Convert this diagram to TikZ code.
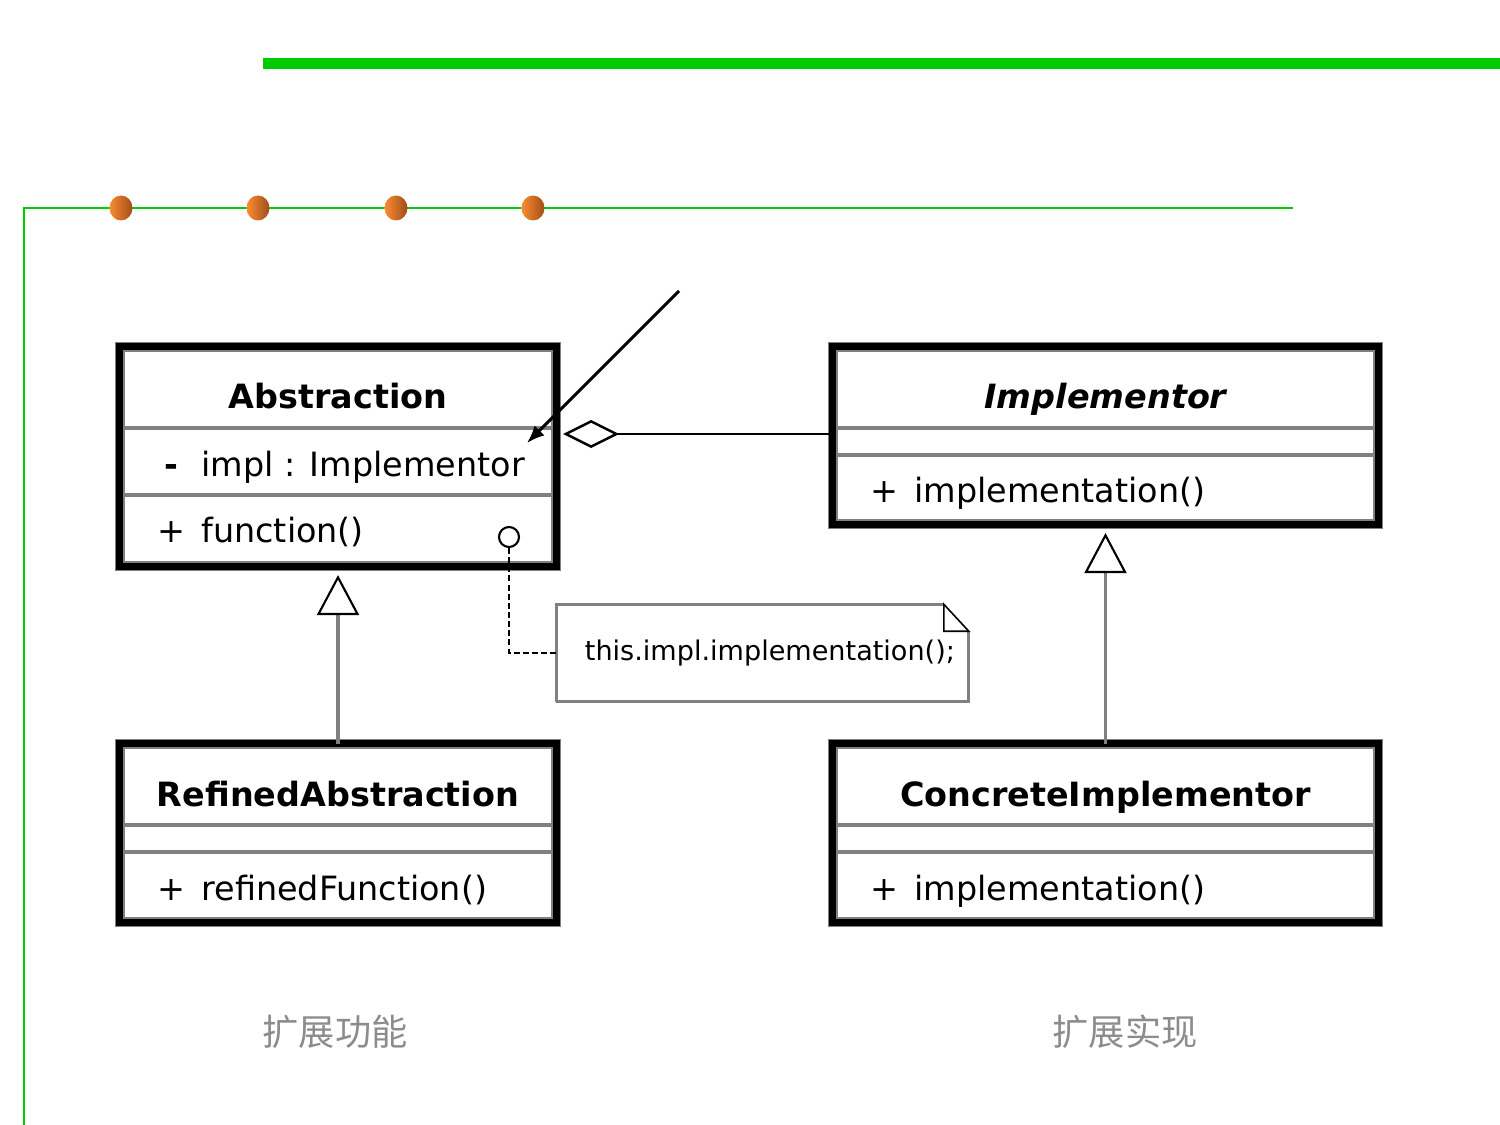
\documentclass[tikz,border=0pt]{standalone}
\usepackage{fontspec}
\setmainfont{DejaVu Sans}
\newfontfamily\cjk{Noto Sans CJK SC}
\usepackage{tikz}
\usetikzlibrary{arrows.meta, positioning, calc, shapes.geometric}
\definecolor{framegreen}{HTML}{00CC00}
\definecolor{dotlight}{HTML}{FA8C32}
\definecolor{dotdark}{HTML}{A04E18}
\definecolor{umlgray}{HTML}{808080}
\definecolor{labelgray}{HTML}{8C8C8C}

% visibility sign + member text
\newcommand{\umember}[2]{\makebox[1.22em][l]{\makebox[0.66em][c]{#1}}#2}

\tikzset{
  classbox/.style={draw=black, line width=2pt, preaction={draw=umlgray, line width=2.85pt}, outer sep=0pt, inner sep=0pt},
  divider/.style={draw=umlgray, line width=1.1pt, shorten <=0.035cm, shorten >=0.035cm},
  titletext/.style={anchor=base, inner sep=0pt, font=\fontsize{9.5}{11}\selectfont\bfseries},
  membertext/.style={anchor=base west, inner sep=0pt, font=\fontsize{9.5}{11}\selectfont},
  genline/.style={draw=umlgray, line width=1pt, -{Triangle[open, color=black, line width=0.6pt, length=0.40cm, width=0.42cm]}},
  aggline/.style={draw=black, line width=0.7pt, -{Diamond[open, line width=0.7pt, length=0.56cm, width=0.28cm]}},
  pointer/.style={draw=black, line width=0.85pt, -{Latex[length=5pt, width=4pt]}},
  notebox/.style={inner xsep=0.28cm, inner ysep=0pt, minimum height=0.96cm, text width=3.55cm, align=left, font=\fontsize{7.7}{9}\selectfont},
  noteline/.style={draw=black, line width=0.7pt, dash pattern=on 1.7pt off 0.9pt},
  callpt/.style={circle, draw=black, line width=0.6pt, minimum size=0.2cm, inner sep=0pt, fill=white},
  orangedot/.style={ellipse, minimum width=0.23cm, minimum height=0.25cm, inner sep=0pt, left color=dotlight, right color=dotdark},
  cnlabel/.style={labelgray, font=\fontsize{10.3}{12}\selectfont\cjk}
}

\begin{document}
\begin{tikzpicture}[x=0.01cm, y=-0.01cm]
  \useasboundingbox (0,0) rectangle (1500,1125);

  % slide decoration
  \fill[framegreen] (263,58) rectangle (1500,69);
  \draw[framegreen, line width=0.65pt] (1293,208) -- (24,208) -- (24,1125);
  \foreach \x [count=\i] in {121, 258, 396, 533} {
    \node[orangedot] (dot\i) at (\x,208) {};
  }

  % class boxes
  \node[classbox, minimum width=4.36cm, minimum height=2.19cm] (abs) at (338,456.5) {};
  \node[classbox, minimum width=5.45cm, minimum height=1.77cm] (impl) at (1105.5,435.5) {};
  \node[classbox, minimum width=4.36cm, minimum height=1.78cm] (ref) at (338,833) {};
  \node[classbox, minimum width=5.45cm, minimum height=1.78cm] (conc) at (1105.5,833) {};

  % compartments
  \draw[divider] (abs.west |- 0,428) -- (abs.east |- 0,428);
  \draw[divider] (abs.west |- 0,495) -- (abs.east |- 0,495);
  \draw[divider] (impl.west |- 0,428) -- (impl.east |- 0,428);
  \draw[divider] (impl.west |- 0,455) -- (impl.east |- 0,455);
  \draw[divider] (ref.west |- 0,825) -- (ref.east |- 0,825);
  \draw[divider] (ref.west |- 0,852) -- (ref.east |- 0,852);
  \draw[divider] (conc.west |- 0,825) -- (conc.east |- 0,825);
  \draw[divider] (conc.west |- 0,852) -- (conc.east |- 0,852);

  % texts
  \node[titletext] (abs-name) at (338,409) {Abstraction};
  \node[membertext] (abs-attr) at (160,477) {\umember{\textbf{-}}{impl : Implementor}};
  \node[membertext] (abs-op) at (160,543) {\umember{+}{function()}};
  \node[titletext] (impl-name) at (1105.5,409) {\itshape Implementor};
  \node[membertext] (impl-op) at (873,503) {\umember{+}{implementation()}};
  \node[titletext] (ref-name) at (338,806) {RefinedAbstraction};
  \node[membertext] (ref-op) at (160,900) {\umember{+}{refinedFunction()}};
  \node[titletext] (conc-name) at (1105.5,806) {ConcreteImplementor};
  \node[membertext] (conc-op) at (873,900) {\umember{+}{implementation()}};

  % inheritance and aggregation
  \draw[genline, shorten >=0.09cm] (ref.north) -- (abs.south);
  \draw[genline, shorten >=0.09cm] (conc.north) -- (impl.south);
  \coordinate (agg) at (0,434);
  \draw[aggline, shorten >=0.07cm] (impl.west |- agg) -- (abs.east |- agg);

  % pointer onto the field
  \coordinate (ptrstart) at (679,291);
  \coordinate (ptrend) at (527,443);
  \draw[pointer] (ptrstart) -- (ptrend);

  % note
  \node[notebox] (note) at (762.5,653) {this.impl.implementation();};
  \draw[umlgray, line width=0.85pt] (note.south west) -- (note.north west) -- ([xshift=-0.25cm]note.north east);
  \draw[umlgray, line width=0.85pt] ([yshift=-0.27cm]note.north east) -- (note.south east) -- (note.south west);
  \draw[black, line width=0.45pt] ([xshift=-0.25cm]note.north east) -- ([xshift=-0.25cm, yshift=-0.27cm]note.north east) -- ([yshift=-0.27cm]note.north east) -- cycle;
  \node[callpt] (call) at (509,537) {};
  \draw[noteline] (call.south) |- (note.west);

  % captions
  \node[cnlabel] (cap-abs) at (335,1032) {扩展功能};
  \node[cnlabel] (cap-impl) at (1125,1032) {扩展实现};
\end{tikzpicture}
\end{document}
